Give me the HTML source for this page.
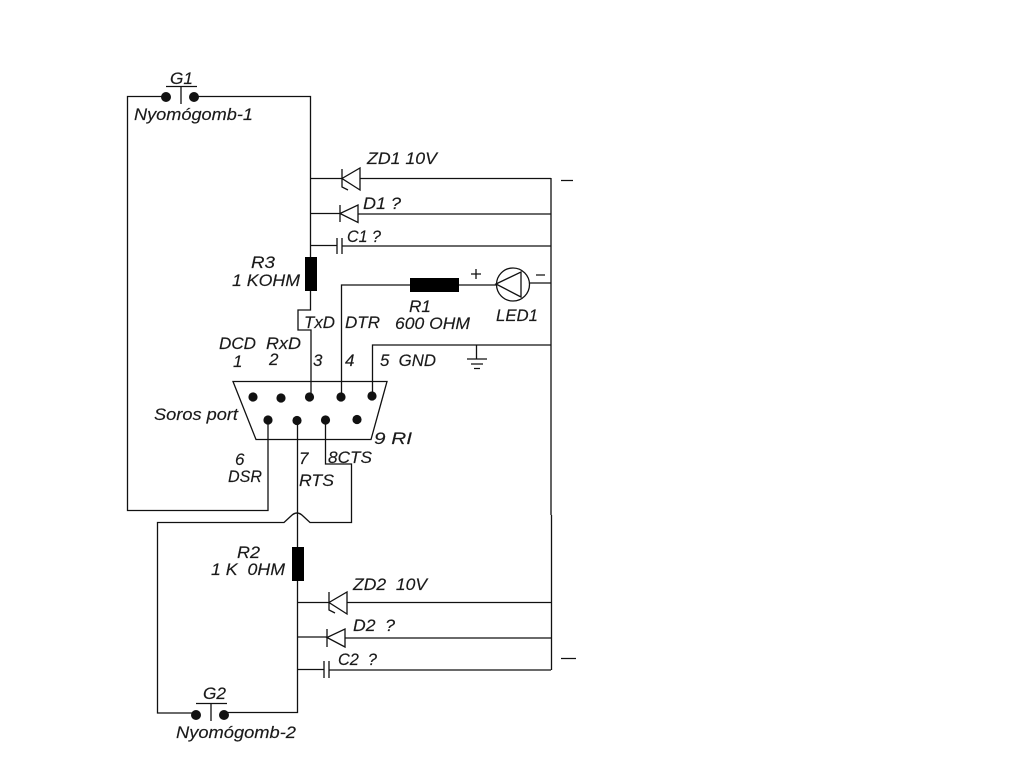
<!DOCTYPE html>
<html>
<head>
<meta charset="utf-8">
<style>
html,body{margin:0;padding:0;background:#fff;width:1024px;height:768px;overflow:hidden}
svg{display:block}
text{font-family:"Liberation Sans",sans-serif;font-style:italic;font-size:17px;fill:#1a1a1a;stroke:#1a1a1a;stroke-width:.15;white-space:pre}
.w{fill:none;stroke:#111;stroke-width:1.3}
</style>
</head>
<body>
<svg width="1024" height="768" viewBox="0 0 1024 768" xmlns="http://www.w3.org/2000/svg">
<rect width="1024" height="768" fill="#fff"/>
<!-- wires -->
<g class="w">
<path d="M166 96.5H127.5V510.5H268V420"/>
<path d="M194 96.5H310.5V310H298V330H311V397"/>
<path d="M310 178.5H342M360 178.5H551"/>
<path d="M310 213.5H340M358 214H551"/>
<path d="M310 245.5H337M342 246H551"/>
<path d="M341.500 397V285H410M459 285H496M530 283H551"/>
<path d="M372.500 397V345H551"/>
<path d="M551 178V515M551.500 515V670"/>
<path d="M476.500 345V359M467 359H487M471 364H483M474 368.500H480"/>
<path d="M297.500 420V712.500H224"/>
<path d="M325.500 420V464H351.500V522.500H310L303 516Q297 510 291 516L284 522.500H157.500V713H196"/>
<path d="M298 602.500H329M347 602.500H551"/>
<path d="M298 637H327M345 638H551"/>
<path d="M298 669.500H324M329 670H551"/>
<!-- zener / diodes -->
<path d="M342 169V187L348 190M360 168V190L342 178.500Z"/>
<path d="M340 205V222M358 205V222.500L340 213.500Z"/>
<path d="M337 238V254M342 238V254"/>
<path d="M329 592V610L335 613M347 592V614L329 602.500Z"/>
<path d="M327 629V647M345 629V647L327 637.500Z"/>
<path d="M324 661V678M329 661V678"/>
<!-- LED -->
<circle cx="513" cy="284.500" r="16.500"/>
<path d="M496 284L521 272V297Z"/>
<!-- connector -->
<path d="M233 381.500H387L371 439.500H256Z"/>
<!-- switches -->
<path d="M166 86.500H197M181 86.500V104"/>
<path d="M196 703.500H227M211 703.500V721"/>
<!-- polarity -->
<path d="M561 180.500H573M561 658.500H576"/>
<path d="M471 274H481M476 269V279M536 275H545"/>
</g>
<!-- resistors -->
<rect x="305" y="257" width="12" height="34" fill="#000"/>
<rect x="410" y="278" width="49" height="14" fill="#000"/>
<rect x="292" y="547" width="12" height="34" fill="#000"/>
<!-- terminals -->
<g fill="#111">
<circle cx="166" cy="97" r="5"/><circle cx="194" cy="97" r="5"/>
<circle cx="196" cy="715" r="5"/><circle cx="224" cy="715" r="5"/>
<circle cx="253" cy="397" r="4.600"/><circle cx="281" cy="398" r="4.600"/><circle cx="309.500" cy="397" r="4.600"/><circle cx="341" cy="397" r="4.600"/><circle cx="372" cy="396" r="4.600"/>
<circle cx="268" cy="420" r="4.600"/><circle cx="297" cy="420.500" r="4.600"/><circle cx="325.500" cy="420" r="4.600"/><circle cx="357" cy="419.500" r="4.600"/>
</g>
<!-- labels -->
<text x="170" y="84" textLength="23" lengthAdjust="spacingAndGlyphs">G1</text>
<text x="134" y="120" textLength="119" lengthAdjust="spacingAndGlyphs">Nyomógomb-1</text>
<text x="367" y="164" textLength="70" lengthAdjust="spacingAndGlyphs">ZD1 10V</text>
<text x="363" y="209" textLength="38" lengthAdjust="spacingAndGlyphs">D1 ?</text>
<text x="347" y="242" textLength="34" lengthAdjust="spacingAndGlyphs">C1 ?</text>
<text x="409" y="312" textLength="22" lengthAdjust="spacingAndGlyphs">R1</text>
<text x="395" y="329" textLength="75" lengthAdjust="spacingAndGlyphs">600 OHM</text>
<text x="496" y="321" textLength="42" lengthAdjust="spacingAndGlyphs">LED1</text>
<text x="304" y="328" textLength="31" lengthAdjust="spacingAndGlyphs">TxD</text>
<text x="345" y="328" textLength="35" lengthAdjust="spacingAndGlyphs">DTR</text>
<text x="380" y="366" textLength="56" lengthAdjust="spacingAndGlyphs">5  GND</text>
<text x="313" y="366">3</text>
<text x="345" y="366">4</text>
<text x="251" y="268" textLength="24" lengthAdjust="spacingAndGlyphs">R3</text>
<text x="232" y="286" textLength="68" lengthAdjust="spacingAndGlyphs">1 KOHM</text>
<text x="219" y="349" textLength="37" lengthAdjust="spacingAndGlyphs">DCD</text>
<text x="266" y="349" textLength="35" lengthAdjust="spacingAndGlyphs">RxD</text>
<text x="233" y="367">1</text>
<text x="269" y="365">2</text>
<text x="154" y="420" textLength="84" lengthAdjust="spacingAndGlyphs">Soros port</text>
<text x="374" y="444" textLength="38" lengthAdjust="spacingAndGlyphs">9 RI</text>
<text x="235" y="465">6</text>
<text x="228" y="482" textLength="34" lengthAdjust="spacingAndGlyphs">DSR</text>
<text x="299" y="464">7</text>
<text x="328" y="463" textLength="44" lengthAdjust="spacingAndGlyphs">8CTS</text>
<text x="299" y="486" textLength="35" lengthAdjust="spacingAndGlyphs">RTS</text>
<text x="237" y="558" textLength="23" lengthAdjust="spacingAndGlyphs">R2</text>
<text x="211" y="575" textLength="74" lengthAdjust="spacingAndGlyphs">1 K  0HM</text>
<text x="353" y="590" textLength="74" lengthAdjust="spacingAndGlyphs">ZD2  10V</text>
<text x="353" y="631" textLength="42" lengthAdjust="spacingAndGlyphs">D2  ?</text>
<text x="338" y="665" textLength="39" lengthAdjust="spacingAndGlyphs">C2  ?</text>
<text x="203" y="699" textLength="23" lengthAdjust="spacingAndGlyphs">G2</text>
<text x="176" y="738" textLength="120" lengthAdjust="spacingAndGlyphs">Nyomógomb-2</text>
</svg>
</body>
</html>
